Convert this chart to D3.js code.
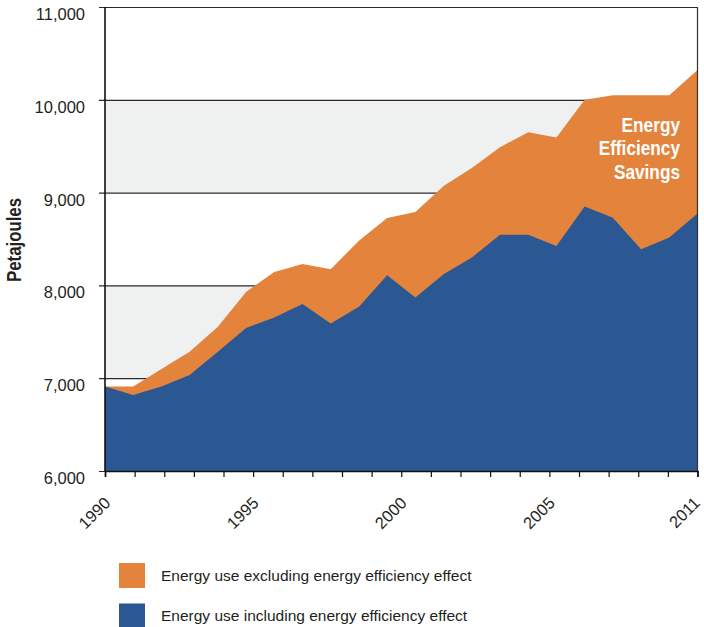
<!DOCTYPE html>
<html>
<head>
<meta charset="utf-8">
<script src="https://cdn.jsdelivr.net/npm/d3@7"></script>
<style>
  html, body { margin: 0; padding: 0; background: #fff; }
  svg { display: block; }
  text { font-family: "Liberation Sans", Arial, Helvetica, sans-serif; fill: #231f20; }
  .narrow { font-family: "Liberation Sans Narrow", "Arial Narrow", "Liberation Sans", Arial, sans-serif; }
</style>
</head>
<body>
<svg id="chart" width="704" height="627"></svg>
<script>
// Canadian energy use, 1990–2011 (petajoules)
const years = [1990, 1991, 1992, 1993, 1994, 1995, 1996, 1997, 1998, 1999, 2000,
               2001, 2002, 2003, 2004, 2005, 2006, 2007, 2008, 2009, 2010, 2011];
const useExcludingEfficiency = [6910, 6910, 7100, 7285, 7555, 7930, 8145, 8230, 8175, 8480, 8725,
                                8790, 9070, 9265, 9490, 9650, 9595, 10000, 10050, 10050, 10050, 10320];
const useIncludingEfficiency = [6910, 6820, 6910, 7035, 7285, 7540, 7655, 7800, 7590, 7770, 8110,
                                7870, 8120, 8300, 8545, 8545, 8425, 8850, 8730, 8390, 8515, 8775];
const yTicks = [6000, 7000, 8000, 9000, 10000, 11000];
const shadedBands = [[7000, 8000], [9000, 10000]];
const xTickLabels = ["1990", "", "", "", "", "1995", "", "", "", "", "2000",
                     "", "", "", "", "2005", "", "", "", "", "2011"];
const seriesNames = ["Energy use excluding energy efficiency effect",
                     "Energy use including energy efficiency effect"];
const savingsLabel = ["Energy", "Efficiency", "Savings"];

const colors = { excl: "#e4843c", incl: "#2b5892", band: "#eef1ef", grid: "#2a2a2a" };

const W = 704;
const svg = d3.select("#chart");
const plot = { left: 105, right: 697.5, top: 7, bottom: 471 };

const x = d3.scaleLinear().domain([years[0], years[years.length - 1]]).range([plot.left, plot.right]);
const y = d3.scaleLinear().domain([6000, 11000]).range([plot.bottom, plot.top]);
const xTick = d3.scalePoint().domain(d3.range(xTickLabels.length)).range([plot.left, plot.right]);

// alternating shaded bands
svg.append("g").selectAll("rect").data(shadedBands).join("rect")
  .attr("x", plot.left).attr("width", plot.right - plot.left)
  .attr("y", d => y(d[1])).attr("height", d => y(d[0]) - y(d[1]))
  .attr("fill", colors.band);

// horizontal gridlines with short ticks to the left; labels hang below each line
const yAxis = d3.axisLeft(y).tickValues(yTicks).tickFormat(d3.format(","))
  .tickSize(-(plot.right - plot.left)).tickPadding(20);
const gy = svg.append("g").attr("transform", `translate(${plot.left},0)`).call(yAxis);
gy.select(".domain").remove();
gy.selectAll(".tick line").attr("stroke", colors.grid).attr("stroke-width", 1.2).attr("x1", -6);
gy.selectAll(".tick text").attr("font-size", 16.5).attr("fill", "#231f20")
  .attr("dy", "0.76em")
  .style("font-family", "'Liberation Sans', Arial, sans-serif");

// stacked areas
const idx = d3.range(years.length);
const areaExcl = d3.area().x(i => x(years[i])).y0(y(6000)).y1(i => y(useExcludingEfficiency[i]));
const areaIncl = d3.area().x(i => x(years[i])).y0(y(6000)).y1(i => y(useIncludingEfficiency[i]));
svg.append("path").datum(idx).attr("d", areaExcl).attr("fill", colors.excl);
svg.append("path").datum(idx).attr("d", areaIncl).attr("fill", colors.incl);

// frame: left axis and right edge
svg.append("line").attr("x1", plot.left).attr("x2", plot.left).attr("y1", plot.top).attr("y2", plot.bottom)
  .attr("stroke", "#111").attr("stroke-width", 1.6);
svg.append("line").attr("x1", plot.right).attr("x2", plot.right).attr("y1", plot.top).attr("y2", plot.bottom)
  .attr("stroke", "#333").attr("stroke-width", 1.2);

// x axis with slanted year labels, kept inside the page
const xAxis = d3.axisBottom(xTick).tickSize(6).tickFormat(i => xTickLabels[i]);
const gx = svg.append("g").attr("transform", `translate(0,${plot.bottom})`).call(xAxis);
gx.select(".domain").attr("stroke", "#111").attr("stroke-width", 1.6);
gx.selectAll(".tick line").attr("stroke", "#111").attr("stroke-width", 1.2);
gx.selectAll(".tick").each(function () {
  const tick = d3.select(this);
  const tx = +tick.attr("transform").match(/translate\(([-\d.]+)/)[1];
  const label = tick.select("text")
    .attr("font-size", 16.5).attr("fill", "#231f20")
    .style("font-family", "'Liberation Sans', Arial, sans-serif")
    .attr("text-anchor", "end").attr("dy", null).attr("y", 0);
  let dx = 6;
  if (tx + dx > W - 3) dx = W - 3 - tx;
  label.attr("transform", `translate(${dx},33) rotate(-45)`);
});

// condensed text helper: squeeze when no narrow face is installed
function condense(sel) {
  sel.each(function () {
    const w = this.getComputedTextLength();
    const probe = svg.append("text").attr("font-size", this.getAttribute("font-size"))
      .attr("font-weight", this.getAttribute("font-weight"))
      .style("font-family", "'Liberation Sans', Arial, sans-serif").text(this.textContent);
    const wr = probe.node().getComputedTextLength();
    probe.remove();
    if (w > wr * 0.9) {
      d3.select(this).attr("textLength", wr * 0.82).attr("lengthAdjust", "spacingAndGlyphs");
    }
  });
}

// y axis title
svg.append("text").attr("class", "narrow")
  .attr("transform", "translate(20.5,240) rotate(-90)")
  .attr("text-anchor", "middle").attr("font-size", 20.5).attr("font-weight", "bold")
  .text("Petajoules").call(condense);

// savings annotation
svg.append("g").selectAll("text").data(savingsLabel).join("text")
  .attr("class", "narrow")
  .attr("x", 680).attr("y", (d, i) => 131.5 + i * 23.5)
  .attr("text-anchor", "end").attr("font-size", 21).attr("font-weight", "bold")
  .style("fill", "#fff")
  .text(d => d).call(condense);

// legend
const legend = svg.append("g").selectAll("g").data(seriesNames).join("g")
  .attr("transform", (d, i) => `translate(119,${563 + i * 40.5})`);
legend.append("rect").attr("width", 26).attr("height", 25)
  .attr("fill", (d, i) => i === 0 ? colors.excl : colors.incl);
legend.append("text").attr("x", 42).attr("y", 17.5).attr("font-size", 15.5)
  .text(d => d);
</script>
</body>
</html>
